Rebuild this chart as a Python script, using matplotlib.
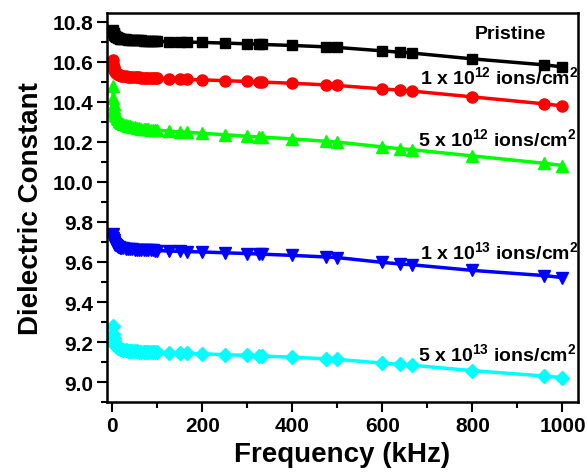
import matplotlib
matplotlib.use("Agg")
import matplotlib.pyplot as plt
from matplotlib.ticker import MultipleLocator

plt.rcParams["font.family"] = ["Liberation Sans", "DejaVu Sans"]
plt.rcParams["font.weight"] = "bold"

FREQ = [1, 2, 3, 4, 5, 6, 7, 8, 10, 12, 15, 18, 20, 25, 30, 35, 40, 45, 50, 55,
        60, 65, 70, 75, 80, 85, 90, 95, 100, 125, 150, 166, 200, 250, 300, 325,
        333, 400, 475, 500, 600, 640, 666, 800, 960, 1000]

PRISTINE = [10.76, 10.75, 10.745, 10.74, 10.735, 10.73, 10.728, 10.725, 10.722, 10.72,
            10.718, 10.716, 10.715, 10.713, 10.712, 10.711, 10.71, 10.709, 10.708, 10.708,
            10.707, 10.707, 10.706, 10.706, 10.705, 10.705, 10.704, 10.704, 10.703, 10.701,
            10.70, 10.699, 10.697, 10.694, 10.69, 10.688, 10.687, 10.682, 10.675, 10.672,
            10.655, 10.648, 10.644, 10.615, 10.585, 10.575]
D1E12 = [10.61, 10.59, 10.575, 10.565, 10.558, 10.552, 10.548, 10.545, 10.54, 10.537,
         10.534, 10.532, 10.531, 10.529, 10.527, 10.526, 10.525, 10.524, 10.523, 10.522,
         10.522, 10.521, 10.52, 10.52, 10.519, 10.519, 10.518, 10.518, 10.517, 10.515,
         10.513, 10.512, 10.51, 10.506, 10.502, 10.5, 10.499, 10.493, 10.485, 10.482,
         10.465, 10.458, 10.454, 10.425, 10.39, 10.38]
D5E12 = [10.48, 10.42, 10.39, 10.37, 10.355, 10.345, 10.336, 10.33, 10.32, 10.312,
         10.305, 10.299, 10.296, 10.29, 10.285, 10.281, 10.278, 10.275, 10.273, 10.271,
         10.269, 10.267, 10.266, 10.264, 10.263, 10.262, 10.261, 10.26, 10.259, 10.254,
         10.25, 10.248, 10.243, 10.236, 10.228, 10.225, 10.224, 10.215, 10.203, 10.199,
         10.175, 10.166, 10.161, 10.13, 10.093, 10.082]
D1E13 = [9.74, 9.72, 9.71, 9.70, 9.695, 9.69, 9.686, 9.683, 9.679, 9.676,
         9.673, 9.671, 9.67, 9.668, 9.666, 9.665, 9.664, 9.663, 9.662, 9.661,
         9.661, 9.66, 9.66, 9.659, 9.659, 9.658, 9.658, 9.657, 9.657, 9.655,
         9.653, 9.652, 9.65, 9.646, 9.642, 9.64, 9.639, 9.633, 9.625, 9.622,
         9.598, 9.59, 9.586, 9.558, 9.532, 9.522]
D5E13 = [9.28, 9.24, 9.22, 9.205, 9.196, 9.19, 9.185, 9.181, 9.176, 9.172,
         9.168, 9.165, 9.164, 9.161, 9.159, 9.157, 9.156, 9.155, 9.154, 9.153,
         9.152, 9.152, 9.151, 9.15, 9.15, 9.149, 9.149, 9.148, 9.148, 9.146,
         9.144, 9.143, 9.141, 9.137, 9.133, 9.131, 9.13, 9.124, 9.116, 9.113,
         9.095, 9.088, 9.084, 9.057, 9.03, 9.022]

SERIES = [
    (PRISTINE, "black", "s", 6.5),
    (D1E12, "#ff0000", "o", 8),
    (D5E12, "#00ff00", "^", 8),
    (D1E13, "#0000ff", "v", 8),
    (D5E13, "#00ffff", "D", 7),
]

LABELS = [
    ("Pristine", 884, 10.74, "center"),
    (r"1 x 10$^{\mathbf{12}}$ ions/cm$^{\mathbf{2}}$", 1035, 10.527, "right"),
    (r"5 x 10$^{\mathbf{12}}$ ions/cm$^{\mathbf{2}}$", 1032, 10.217, "right"),
    (r"1 x 10$^{\mathbf{13}}$ ions/cm$^{\mathbf{2}}$", 1035, 9.652, "right"),
    (r"5 x 10$^{\mathbf{13}}$ ions/cm$^{\mathbf{2}}$", 1032, 9.142, "right"),
]

plt.rcParams["mathtext.fontset"] = "custom"
plt.rcParams["mathtext.bf"] = "Liberation Sans:bold"
plt.rcParams["mathtext.rm"] = "Liberation Sans:bold"

fig = plt.figure(figsize=(5.87, 4.77), dpi=100)
ax = fig.add_axes([0.182, 0.155, 0.803, 0.816])

for vals, color, marker, ms in SERIES:
    ax.plot(FREQ, vals, color=color, marker=marker, markersize=ms, linewidth=2.5)

for text, x, y, ha in LABELS:
    ax.text(x, y, text, ha=ha, va="center", fontsize=14, fontweight="bold")

ax.set_xlim(-12, 1035)
ax.set_ylim(8.9, 10.845)
ax.xaxis.set_major_locator(MultipleLocator(200))
ax.xaxis.set_minor_locator(MultipleLocator(100))
ax.yaxis.set_major_locator(MultipleLocator(0.2))
ax.yaxis.set_minor_locator(MultipleLocator(0.1))
ax.yaxis.set_major_formatter(matplotlib.ticker.FormatStrFormatter("%.1f"))
ax.tick_params(which="both", direction="out", top=False, right=False, width=1.5)
ax.tick_params(which="major", length=7, labelsize=15, pad=3)
ax.tick_params(which="minor", length=4)
for lbl in ax.get_xticklabels() + ax.get_yticklabels():
    lbl.set_fontweight("bold")
for sp in ax.spines.values():
    sp.set_linewidth(1.8)

ax.set_xlabel("Frequency (kHz)", fontsize=20, fontweight="bold", labelpad=4)
ax.set_ylabel("Dielectric Constant", fontsize=20, fontweight="bold", labelpad=6)

fig.savefig("out.png", dpi=100)
